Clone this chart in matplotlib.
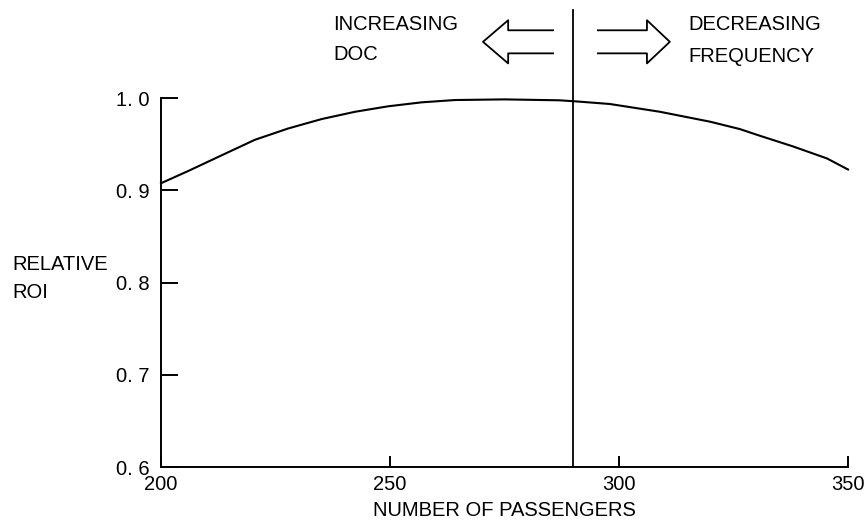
import numpy as np
import matplotlib
matplotlib.use("Agg")
import matplotlib.pyplot as plt

plt.rcParams['font.family'] = ['Liberation Sans', 'DejaVu Sans']
fs = 14.5

# curve
passengers = [200, 206, 213.3, 220.5, 227.8, 235.1, 242.4, 249.6, 256.9, 264.2, 275, 287, 290.4,
              298, 308.9, 319.9, 326.4, 330.8, 338, 345.4, 350]
rel_roi = [0.9076, 0.921, 0.938, 0.9547, 0.967, 0.9772, 0.9851, 0.991, 0.9953, 0.9978, 0.9985, 0.9975, 0.9964,
           0.9935, 0.9851, 0.9743, 0.9663, 0.959, 0.9475, 0.9345, 0.9225]
x_ticks = [200, 250, 300, 350]
y_ticks = [0.6, 0.7, 0.8, 0.9, 1.0]
y_tick_labels = ["0. 6", "0. 7", "0. 8", "0. 9", "1. 0"]
divider = 290

fig = plt.figure(figsize=(8.68, 5.31), dpi=100)
ax = fig.add_axes([161/868, 1-467/531, (848-161)/868, (467-98)/531])

ax.plot(passengers, rel_roi, color='black', lw=1.5, clip_on=False)
ax.axvline(divider, ymin=0, ymax=1.2385, color='black', lw=1.3, clip_on=False)

ax.set_xlim(200, 350)
ax.set_ylim(0.6, 1.0)
ax.set_xticks(x_ticks)
ax.set_yticks(y_ticks)
ax.set_yticklabels(y_tick_labels)
for s in ['top', 'right']:
    ax.spines[s].set_visible(False)
for s in ['left', 'bottom']:
    ax.spines[s].set_linewidth(1.4)
ax.tick_params(axis='y', direction='in', length=12, width=1.4, pad=8, labelsize=fs)
ax.tick_params(axis='x', direction='in', length=8, width=1.4, pad=6, labelsize=fs)
ax.set_xlabel("NUMBER OF PASSENGERS", fontsize=fs, labelpad=5)

fig.text(12/868, 1-265/531, "RELATIVE", fontsize=fs, va='center', ha='left')
fig.text(12/868, 1-292/531, "ROI", fontsize=fs, va='center', ha='left')

# hollow arrows either side of the divider
def hollow_arrow(x_tail, x_base, x_tip, yc, shaft, head):
    xs = [x_tail, x_base, x_base, x_tip, x_base, x_base, x_tail]
    ys = [yc + shaft, yc + shaft, yc + head, yc, yc - head, yc - shaft, yc - shaft]
    ax.plot(xs, ys, color='black', lw=1.3, clip_on=False)

hollow_arrow(285.6, 275.8, 270.3, 1.0609, 0.0125, 0.0234)
hollow_arrow(295.4, 306.1, 311.1, 1.0609, 0.0125, 0.0234)

fig.text(333/868, 1-24/531, "INCREASING", fontsize=fs, va='center', ha='left')
fig.text(333/868, 1-55/531, "DOC", fontsize=fs, va='center', ha='left')
fig.text(688/868, 1-25/531, "DECREASING", fontsize=fs, va='center', ha='left')
fig.text(688/868, 1-56/531, "FREQUENCY", fontsize=fs, va='center', ha='left')

fig.savefig("out.png", dpi=100)
